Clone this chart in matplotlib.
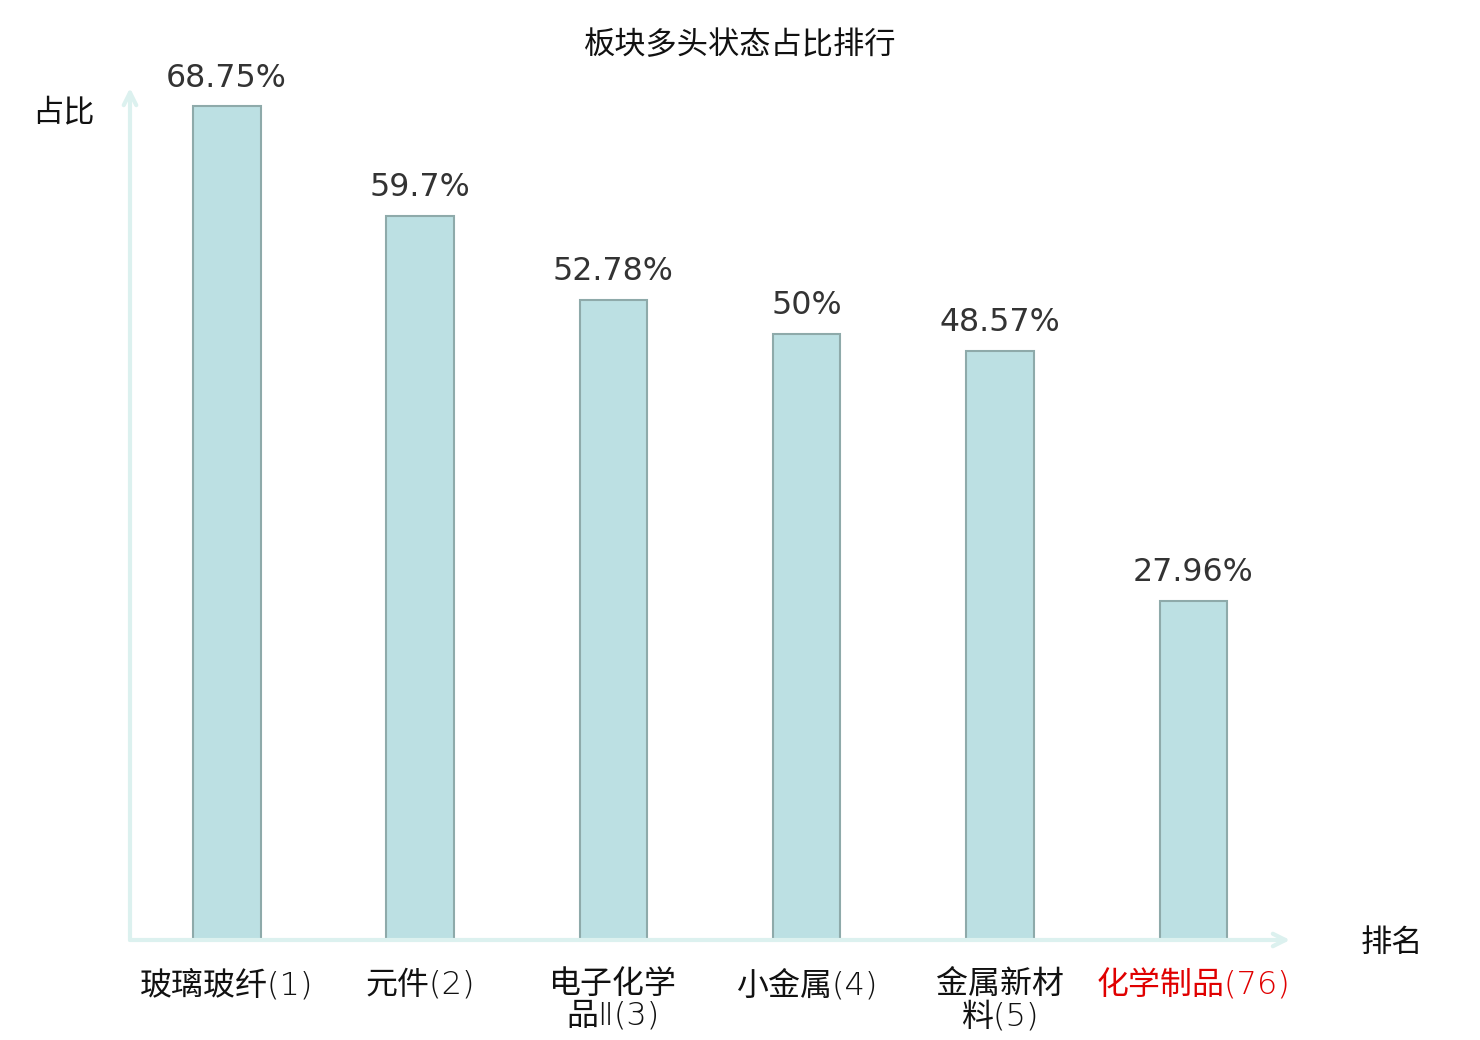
import matplotlib
matplotlib.use('Agg')
import matplotlib.pyplot as plt
from matplotlib.transforms import blended_transform_factory

plt.rcParams['font.family'] = ['Noto Sans CJK SC', 'DejaVu Sans']

# data
categories = ['玻璃玻纤(1)', '元件(2)', '电子化学\n品Ⅱ(3)', '小金属(4)', '金属新材\n料(5)', '化学制品(76)']
values = [68.75, 59.7, 52.78, 50, 48.57, 27.96]
value_labels = ['68.75%', '59.7%', '52.78%', '50%', '48.57%', '27.96%']
label_colors = ['#111111', '#111111', '#111111', '#111111', '#111111', '#e00000']

fig = plt.figure(figsize=(14.8, 10.4), dpi=100)
ax = fig.add_axes([130 / 1480, 1 - 940 / 1040, (1290 - 130) / 1480, (940 - 88) / 1040])

x = list(range(len(categories)))
ax.bar(x, values, width=0.35, color='#bce0e3', edgecolor='#8eaaaa', linewidth=1.5, zorder=2)
ax.set_xlim(-0.5, len(categories) - 0.5)
ax.set_ylim(0, 70.24)

# value labels above bars
for xi, v, s in zip(x, values, value_labels):
    ax.annotate(s, (xi, v), xytext=(0, 9), textcoords='offset points',
                ha='center', va='bottom', fontsize=22.8, color='#333333',
                family='DejaVu Sans')

# category labels under axis
trans = blended_transform_factory(ax.transData, ax.transAxes)
for xi, c, col in zip(x, categories, label_colors):
    ax.text(xi, -0.034, c, transform=trans, ha='center', va='top', fontsize=23,
            color=col, linespacing=1.08, family=['DejaVu Sans', 'Noto Sans CJK SC'],
            fontweight='light')

# axis arrows
ax.set_xticks([])
ax.set_yticks([])
for sp in ax.spines.values():
    sp.set_visible(False)
arrow_col = '#dcf1ef'
ax.annotate('', xy=(1.0, 0), xytext=(0, 0), xycoords='axes fraction',
            arrowprops=dict(arrowstyle='->,head_length=0.9,head_width=0.45', color=arrow_col, lw=3,
                            shrinkA=0, shrinkB=0), zorder=3)
ax.annotate('', xy=(0, 1.0), xytext=(0, 0), xycoords='axes fraction',
            arrowprops=dict(arrowstyle='->,head_length=0.9,head_width=0.45', color=arrow_col, lw=3,
                            shrinkA=0, shrinkB=0), zorder=3)

# titles
fig.text(740 / 1480, 1 - 45 / 1040, '板块多头状态占比排行', ha='center', va='center', fontsize=22.5, color='#111111')
fig.text(63 / 1480, 1 - 112 / 1040, '占比', ha='center', va='center', fontsize=22.5, color='#111111')
fig.text(1392 / 1480, 1 - 943 / 1040, '排名', ha='center', va='center', fontsize=22.5, color='#111111')

fig.savefig('out.png', dpi=100, facecolor='white')
